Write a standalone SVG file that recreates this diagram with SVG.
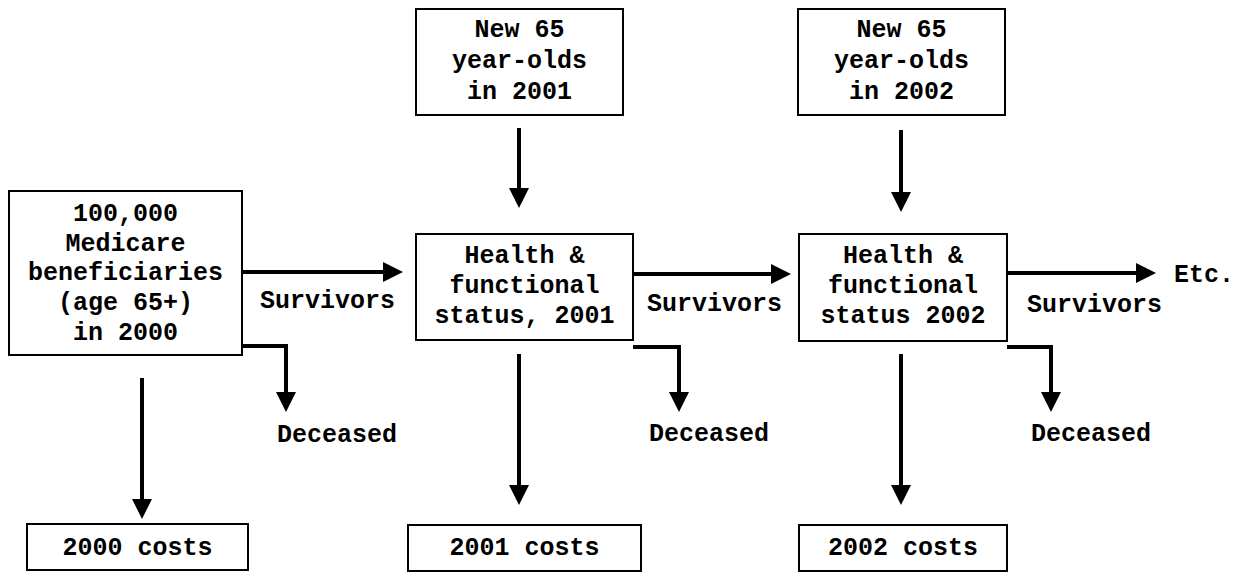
<svg xmlns="http://www.w3.org/2000/svg" width="1252" height="572" viewBox="0 0 1252 572">
<defs>
<style>
.box{fill:#fff;stroke:#000;stroke-width:2}
.t{font-family:"Liberation Mono","Courier New",monospace;font-weight:bold;font-size:25px;fill:#000}
.m{text-anchor:middle}
.c{fill:none;stroke:#000;stroke-width:4}
</style>
<marker id="ah" markerUnits="userSpaceOnUse" markerWidth="20" markerHeight="20" refX="0" refY="10" orient="auto" viewBox="0 0 20 20">
<path d="M0,0 L20,10 L0,20 z" fill="#000"/>
</marker>
</defs>
<rect width="1252" height="572" fill="#fff"/>
<g id="connectors">
<path class="c" d="M242,272 H383" marker-end="url(#ah)"/>
<path class="c" d="M633,274 H771" marker-end="url(#ah)"/>
<path class="c" d="M1007,273 H1136" marker-end="url(#ah)"/>
<path class="c" d="M242,346 H286 V392" marker-end="url(#ah)"/>
<path class="c" d="M633,347 H679 V392" marker-end="url(#ah)"/>
<path class="c" d="M1007,347 H1051 V392" marker-end="url(#ah)"/>
<path class="c" d="M142,378 V499" marker-end="url(#ah)"/>
<path class="c" d="M519,354 V485" marker-end="url(#ah)"/>
<path class="c" d="M901,354 V485" marker-end="url(#ah)"/>
<path class="c" d="M519,128 V188" marker-end="url(#ah)"/>
<path class="c" d="M901,130 V192" marker-end="url(#ah)"/>
</g>
<g id="medicare2000">
<rect class="box" x="9" y="191" width="233" height="164"/>
<text class="t m" x="125.5" y="221">100,000</text>
<text class="t m" x="125.5" y="251">Medicare</text>
<text class="t m" x="125.5" y="280">beneficiaries</text>
<text class="t m" x="125.5" y="310">(age 65+)</text>
<text class="t m" x="125.5" y="340">in 2000</text>
</g>
<g id="new2001">
<rect class="box" x="416" y="9" width="207" height="106"/>
<text class="t m" x="519.5" y="37">New 65</text>
<text class="t m" x="519.5" y="68">year-olds</text>
<text class="t m" x="519.5" y="99">in 2001</text>
</g>
<g id="new2002">
<rect class="box" x="798" y="9" width="207" height="106"/>
<text class="t m" x="901.5" y="37">New 65</text>
<text class="t m" x="901.5" y="68">year-olds</text>
<text class="t m" x="901.5" y="99">in 2002</text>
</g>
<g id="health2001">
<rect class="box" x="416" y="234" width="217" height="106"/>
<text class="t m" x="524.5" y="263">Health &amp;</text>
<text class="t m" x="524.5" y="293">functional</text>
<text class="t m" x="524.5" y="323">status, 2001</text>
</g>
<g id="health2002">
<rect class="box" x="799" y="234" width="208" height="107"/>
<text class="t m" x="903" y="263">Health &amp;</text>
<text class="t m" x="903" y="293">functional</text>
<text class="t m" x="903" y="323">status 2002</text>
</g>
<g id="costs2000">
<rect class="box" x="27" y="524" width="221" height="46"/>
<text class="t m" x="137.5" y="555">2000 costs</text>
</g>
<g id="costs2001">
<rect class="box" x="408" y="525" width="233" height="46"/>
<text class="t m" x="524.5" y="555">2001 costs</text>
</g>
<g id="costs2002">
<rect class="box" x="799" y="525" width="208" height="46"/>
<text class="t m" x="903" y="555">2002 costs</text>
</g>
<g id="labels">
<text class="t" x="260" y="308">Survivors</text>
<text class="t" x="647" y="311">Survivors</text>
<text class="t" x="1027" y="312">Survivors</text>
<text class="t" x="277" y="442">Deceased</text>
<text class="t" x="649" y="441">Deceased</text>
<text class="t" x="1031" y="441">Deceased</text>
<text class="t" x="1174" y="282">Etc.</text>
</g>
</svg>
